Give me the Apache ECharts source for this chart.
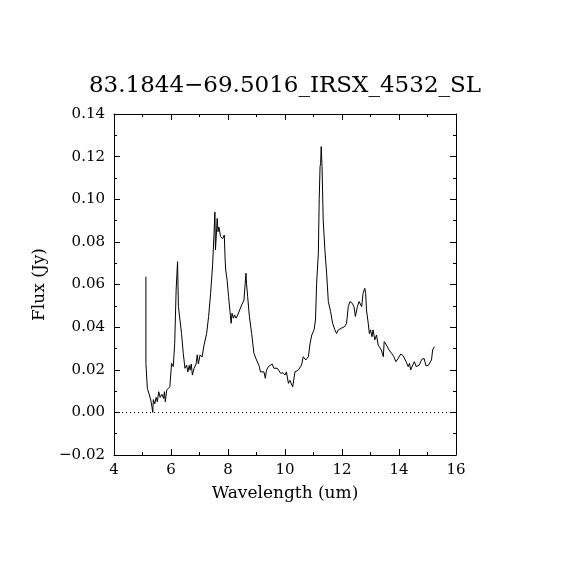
<!DOCTYPE html>
<html>
<head>
<meta charset="utf-8">
<script src="https://cdn.jsdelivr.net/npm/echarts@6/dist/echarts.min.js"></script>
<style>
html, body { margin: 0; padding: 0; background: #fff; }
#main { width: 570px; height: 570px; }
</style>
</head>
<body>
<div id="main"></div>
<script>
var titleText = '83.1844\u221269.5016_IRSX_4532_SL';

var wavelength = [
    5.12, 5.12, 5.17, 5.24, 5.29, 5.33, 5.36, 5.38, 5.43, 5.48, 5.52, 5.57, 5.62, 5.68, 5.74, 5.77,
    5.80, 5.85, 5.91, 5.96, 6.02, 6.08, 6.13, 6.18, 6.23, 6.26, 6.29, 6.37, 6.43, 6.49, 6.55, 6.59,
    6.64, 6.67, 6.71, 6.75, 6.81, 6.88, 6.92, 6.96, 7.02, 7.09, 7.16, 7.25, 7.32, 7.39, 7.46, 7.51,
    7.54, 7.56, 7.60, 7.62, 7.65, 7.68, 7.74, 7.81, 7.87, 7.90, 7.92, 7.97, 8.02, 8.07, 8.11, 8.14,
    8.19, 8.23, 8.28, 8.34, 8.40, 8.48, 8.56, 8.61, 8.63, 8.65, 8.69, 8.75, 8.83, 8.91, 9.00, 9.10,
    9.14, 9.19, 9.26, 9.31, 9.35, 9.42, 9.47, 9.55, 9.61, 9.66, 9.73, 9.79, 9.85, 9.93, 10.00, 10.05,
    10.12, 10.17, 10.27, 10.35, 10.47, 10.58, 10.64, 10.73, 10.82, 10.88, 10.94, 11.02, 11.07, 11.11,
    11.17, 11.20, 11.23, 11.25, 11.27, 11.30, 11.34, 11.40, 11.46, 11.52, 11.60, 11.67, 11.75, 11.81,
    11.87, 11.93, 11.98, 12.04, 12.10, 12.16, 12.22, 12.28, 12.36, 12.42, 12.47, 12.54, 12.60, 12.65,
    12.69, 12.74, 12.80, 12.83, 12.86, 12.92, 12.96, 13.00, 13.05, 13.09, 13.15, 13.21, 13.27, 13.33,
    13.38, 13.45, 13.48, 13.56, 13.65, 13.74, 13.82, 13.89, 13.97, 14.06, 14.15, 14.25, 14.32, 14.37,
    14.41, 14.48, 14.54, 14.60, 14.65, 14.71, 14.80, 14.88, 14.95, 15.03, 15.09, 15.14, 15.18, 15.24
];

var flux = [
    0.0637, 0.0230, 0.0113, 0.0082, 0.0058, 0.0027, 0.0000, 0.0060, 0.0040, 0.0070, 0.0050, 0.0097, 0.0070, 0.0085, 0.0065, 0.0097,
    0.0050, 0.0105, 0.0097, 0.0120, 0.0230, 0.0215, 0.0324, 0.0574, 0.0707, 0.0496, 0.0496, 0.0370, 0.0277, 0.0207, 0.0222, 0.0190,
    0.0220, 0.0198, 0.0227, 0.0175, 0.0207, 0.0227, 0.0270, 0.0227, 0.0270, 0.0260, 0.0316, 0.0370, 0.0450, 0.0559, 0.0692, 0.0840,
    0.0940, 0.0762, 0.0856, 0.0910, 0.0848, 0.0870, 0.0825, 0.0815, 0.0832, 0.0715, 0.0668, 0.0620, 0.0543, 0.0473, 0.0418, 0.0465,
    0.0442, 0.0457, 0.0442, 0.0457, 0.0465, 0.0504, 0.0527, 0.0527, 0.0653, 0.0606, 0.0543, 0.0450, 0.0370, 0.0277, 0.0246, 0.0215,
    0.0190, 0.0198, 0.0190, 0.0160, 0.0198, 0.0215, 0.0207, 0.0227, 0.0207, 0.0215, 0.0207, 0.0198, 0.0183, 0.0186, 0.0175, 0.0190,
    0.0136, 0.0150, 0.0120, 0.0190, 0.0199, 0.0222, 0.0261, 0.0246, 0.0261, 0.0324, 0.0363, 0.0387, 0.0434, 0.0606,
    0.0747, 0.0997, 0.1153, 0.1169, 0.1247, 0.1153, 0.0903, 0.0762, 0.0653, 0.0520, 0.0473, 0.0418, 0.0387, 0.0370,
    0.0387, 0.0380, 0.0395, 0.0387, 0.0403, 0.0418, 0.0496, 0.0520, 0.0512, 0.0496, 0.0450, 0.0496, 0.0520, 0.0528,
    0.0496, 0.0559, 0.0582, 0.0559, 0.0480, 0.0418, 0.0370, 0.0387, 0.0355, 0.0387, 0.0340, 0.0363, 0.0316, 0.0308,
    0.0293, 0.0261, 0.0332, 0.0316, 0.0293, 0.0277, 0.0261, 0.0238, 0.0253, 0.0274, 0.0265, 0.0238, 0.0215, 0.0230,
    0.0199, 0.0222, 0.0238, 0.0215, 0.0207, 0.0222, 0.0249, 0.0253, 0.0218, 0.0221, 0.0230, 0.0246, 0.0293, 0.0308
];

var xTicks = [4, 6, 8, 10, 12, 14, 16];
var yTicks = [-0.02, 0.00, 0.02, 0.04, 0.06, 0.08, 0.10, 0.12, 0.14];

var font = 'DejaVu Serif';

var points = [];
for (var i = 0; i < wavelength.length; i++) {
    points.push([wavelength[i], flux[i]]);
}

function xAxis(pos, show) {
    return {
        type: 'value', position: pos, min: xTicks[0], max: xTicks[xTicks.length - 1], interval: 2,
        axisLine: { show: true, onZero: false, lineStyle: { color: '#000', width: 1 } },
        axisTick: { show: true, inside: true, length: 6, lineStyle: { color: '#000' } },
        minorTick: { show: true, splitNumber: 2, length: 3, lineStyle: { color: '#000' } },
        splitLine: { show: false },
        axisLabel: { show: show, color: '#000', fontFamily: font, fontSize: 15, margin: 8 }
    };
}

function yAxis(pos, show) {
    return {
        type: 'value', position: pos, min: yTicks[0], max: yTicks[yTicks.length - 1], interval: 0.02,
        axisLine: { show: true, onZero: false, lineStyle: { color: '#000', width: 1 } },
        axisTick: { show: true, inside: true, length: 6, lineStyle: { color: '#000' } },
        minorTick: { show: true, splitNumber: 2, length: 3, lineStyle: { color: '#000' } },
        splitLine: { show: false },
        axisLabel: {
            show: show, color: '#000', fontFamily: font, fontSize: 15, margin: 9,
            formatter: function (v) { return v < 0 ? '\u2212' + (-v).toFixed(2) : v.toFixed(2); }
        }
    };
}

var chart = echarts.init(document.getElementById('main'));
var xa = [xAxis('bottom', true), xAxis('top', false)];
xa[0].name = 'Wavelength (um)';
xa[0].nameLocation = 'middle';
xa[0].nameGap = 30;
xa[0].nameTextStyle = { color: '#000', fontFamily: font, fontSize: 17 };
var ya = [yAxis('left', true), yAxis('right', false)];
ya[0].name = 'Flux (Jy)';
ya[0].nameLocation = 'middle';
ya[0].nameGap = 64;
ya[0].nameTextStyle = { color: '#000', fontFamily: font, fontSize: 17 };

chart.setOption({
    animation: false,
    backgroundColor: '#fff',
    title: {
        text: titleText, left: 'center', top: 70,
        textStyle: { color: '#000', fontFamily: font, fontSize: 23, fontWeight: 'normal' }
    },
    grid: { left: 114, top: 114, right: 114, bottom: 115 },
    xAxis: xa,
    yAxis: ya,
    series: [{
        type: 'line',
        data: points,
        showSymbol: false,
        lineStyle: { color: '#000', width: 1 },
        markLine: {
            silent: true,
            symbol: 'none',
            label: { show: false },
            lineStyle: { color: '#000', type: [1, 3], width: 1 },
            data: [{ yAxis: 0 }]
        }
    }]
});
</script>
</body>
</html>
